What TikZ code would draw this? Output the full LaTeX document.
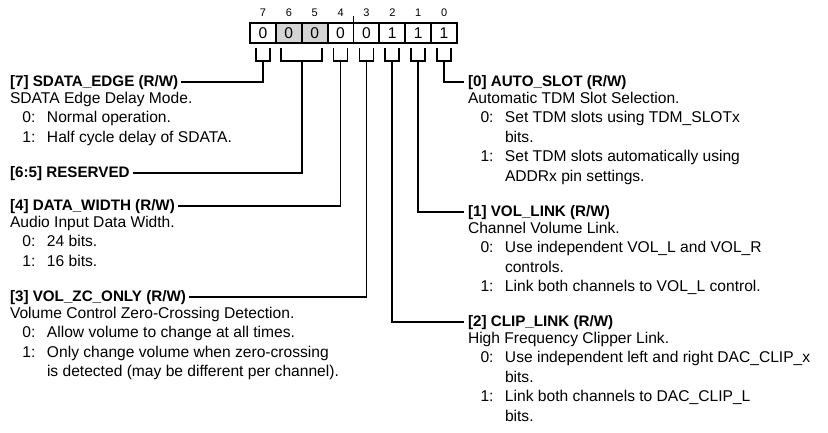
\documentclass[tikz,border=0pt]{standalone}
\usepackage{fontspec}
\setmainfont{Liberation Sans}
\usetikzlibrary{positioning, calc}
\newcommand{\regfont}{\fontsize{15.6}{19.5}\selectfont}
\newcommand{\hdrfont}{\fontsize{15.2}{19.5}\selectfont\bfseries}
\newcommand{\bitopt}[2]{\hspace*{12.5pt}\makebox[24.5pt][l]{#1:}#2}
\newcommand{\bitcont}[1]{\hspace*{37pt}#1}

\begin{document}
\begin{tikzpicture}[
    x=1pt, y=-1pt,
    cell/.style={draw, line width=1.8pt, minimum width=25.875pt, minimum height=20pt,
      inner sep=0pt, outer sep=0pt, font=\regfont},
    bitnum/.style={font=\fontsize{11}{13}\selectfont, inner sep=0pt},
    fieldhdr/.style={font=\hdrfont, inner sep=0pt, outer sep=0pt,
      execute at begin node=\strut, anchor=base west},
    fieldtxt/.style={font=\regfont, align=left, inner sep=0pt, outer sep=0pt,
      execute at begin node=\strut, below right=0pt and 0pt of #1.south west},
    conn/.style={line width=1.8pt}
  ]
  \useasboundingbox (0,0) rectangle (828,432);

  \foreach \v/\f [count=\k from 0] in {0/white, 0/black!17, 0/black!17, 0/white,
      0/white, 1/white, 1/white, 1/white} {
    \pgfmathtruncatemacro{\bit}{7-\k}
    \node[cell, fill=\f] (c\bit) at ({250+(\k+0.5)*25.875},33) {\v};
    \node[bitnum] (n\bit) at ({250+(\k+0.5)*25.875},13) {\bit};
  }
  \draw[line width=1.2pt] (c4.north east) -- ++(0,-7);

  \foreach \bit in {7,4,3,2,1,0} {
    \draw[conn] ($(c\bit.south)+(-7,5)$) -- ++(0,13) -- ++(14,0) -- ++(0,-13);
    \coordinate (b\bit) at ($(c\bit.south)+(0,18)$);
  }
  \draw[conn] ($(c6.south)+(-7.8,5)$) -- ++(0,13) -- ($(c5.south)+(7.3,18)$) -- ++(0,-13);
  \coordinate (b65) at ($(c6.south)+(12.94,18)$);

  % left column
  \node[fieldhdr] (f7) at (10,86) {[7] SDATA\_EDGE (R/W)};
  \node[fieldtxt=f7] (t7) {SDATA Edge Delay Mode.\\
    \bitopt{0}{Normal operation.}\\
    \bitopt{1}{Half cycle delay of SDATA.}};
  \node[fieldhdr] (f65) at (10,177) {[6:5] RESERVED};
  \node[fieldhdr] (f4) at (10,210) {[4] DATA\_WIDTH (R/W)};
  \node[fieldtxt=f4] (t4) {Audio Input Data Width.\\
    \bitopt{0}{24 bits.}\\
    \bitopt{1}{16 bits.}};
  \node[fieldhdr] (f3) at (10,301) {[3] VOL\_ZC\_ONLY (R/W)};
  \node[fieldtxt=f3] (t3) {Volume Control Zero-Crossing Detection.\\
    \bitopt{0}{Allow volume to change at all times.}\\
    \bitopt{1}{Only change volume when zero-crossing}\\
    \bitcont{is detected (may be different per channel).}};

  % right column
  \node[fieldhdr] (f0) at (468,86) {[0] AUTO\_SLOT (R/W)};
  \node[fieldtxt=f0] (t0) {Automatic TDM Slot Selection.\\
    \bitopt{0}{Set TDM slots using TDM\_SLOTx}\\
    \bitcont{bits.}\\
    \bitopt{1}{Set TDM slots automatically using}\\
    \bitcont{ADDRx pin settings.}};
  \node[fieldhdr] (f1) at (468,216) {[1] VOL\_LINK (R/W)};
  \node[fieldtxt=f1] (t1) {Channel Volume Link.\\
    \bitopt{0}{Use independent VOL\_L and VOL\_R}\\
    \bitcont{controls.}\\
    \bitopt{1}{Link both channels to VOL\_L control.}};
  \node[fieldhdr] (f2) at (468,326) {[2] CLIP\_LINK (R/W)};
  \node[fieldtxt=f2] (t2) {High Frequency Clipper Link.\\
    \bitopt{0}{Use independent left and right DAC\_CLIP\_x}\\
    \bitcont{bits.}\\
    \bitopt{1}{Link both channels to DAC\_CLIP\_L}\\
    \bitcont{bits.}};

  \foreach \f in {7,65,4,3}
    \draw[conn, shorten >=3pt] (b\f) |- (f\f.east);
  \foreach \f in {0,1,2}
    \draw[conn, shorten >=4pt] (b\f) |- (f\f.west);
\end{tikzpicture}
\end{document}
